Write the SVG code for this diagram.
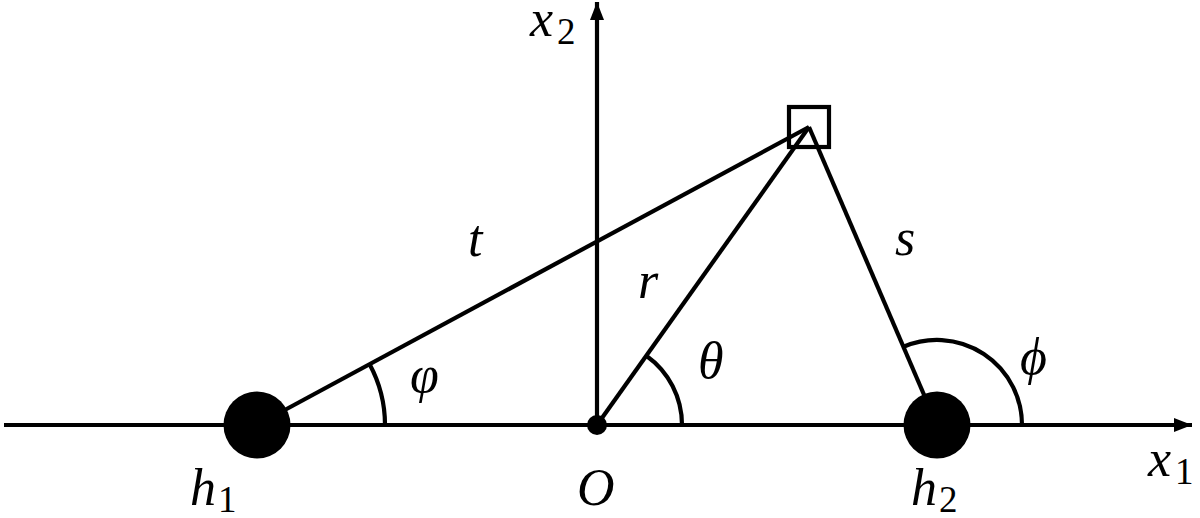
<svg xmlns="http://www.w3.org/2000/svg" width="1200" height="518" viewBox="0 0 1200 518">
<style>
.ln{stroke:#000;stroke-width:4.2;fill:none}
.m{font-family:"Liberation Serif","DejaVu Serif",serif;font-style:italic;font-size:52px;fill:#000}
.sub{font-family:"Liberation Serif","DejaVu Serif",serif;font-style:normal;font-size:37px;fill:#000}
</style>
<defs>
<marker id="ah" markerWidth="18" markerHeight="14" refX="18" refY="7" orient="auto" markerUnits="userSpaceOnUse">
<path d="M0,0 L18,7 L0,14 Z" fill="#000"/>
</marker>
</defs>
<rect width="1200" height="518" fill="#fff"/>
<g id="axes">
<line class="ln" x1="4" y1="425" x2="1192" y2="425" marker-end="url(#ah)"/>
<line class="ln" x1="597" y1="425" x2="597" y2="2" marker-end="url(#ah)"/>
</g>
<g id="connectors">
<line class="ln" x1="257" y1="425" x2="809" y2="127"/>
<line class="ln" x1="597" y1="425" x2="809" y2="127"/>
<line class="ln" x1="937" y1="425" x2="809" y2="127"/>
<path class="ln" d="M385,425 A128,128 0 0 0 369.6,364.2"/>
<path class="ln" d="M682,425 A85,85 0 0 0 646.3,355.7"/>
<path class="ln" d="M1022,425 A85,85 0 0 0 903.5,346.8"/>
</g>
<g id="h1"><circle cx="257" cy="425" r="33.5" fill="#000"/>
<text class="m" x="190" y="505">h</text><text class="sub" x="218" y="512">1</text></g>
<g id="O"><circle cx="597" cy="425" r="10" fill="#000"/>
<text class="m" x="577" y="505">O</text></g>
<g id="h2"><circle cx="937" cy="425" r="33.5" fill="#000"/>
<text class="m" x="911" y="505">h</text><text class="sub" x="939" y="512">2</text></g>
<g id="point"><rect x="789" y="107" width="40" height="40" class="ln"/></g>
<g id="labels">
<text class="m" x="530" y="36">x</text><text class="sub" x="557" y="44">2</text>
<text class="m" x="1148" y="476">x</text><text class="sub" x="1175" y="484">1</text>
<text class="m" x="468" y="256">t</text>
<text class="m" x="638" y="298">r</text>
<text class="m" x="895" y="255">s</text>
<text class="m" x="698" y="378">θ</text>
<text class="m" x="410" y="392">φ</text>
<text class="m" x="1020" y="374">ϕ</text>
</g>
</svg>
